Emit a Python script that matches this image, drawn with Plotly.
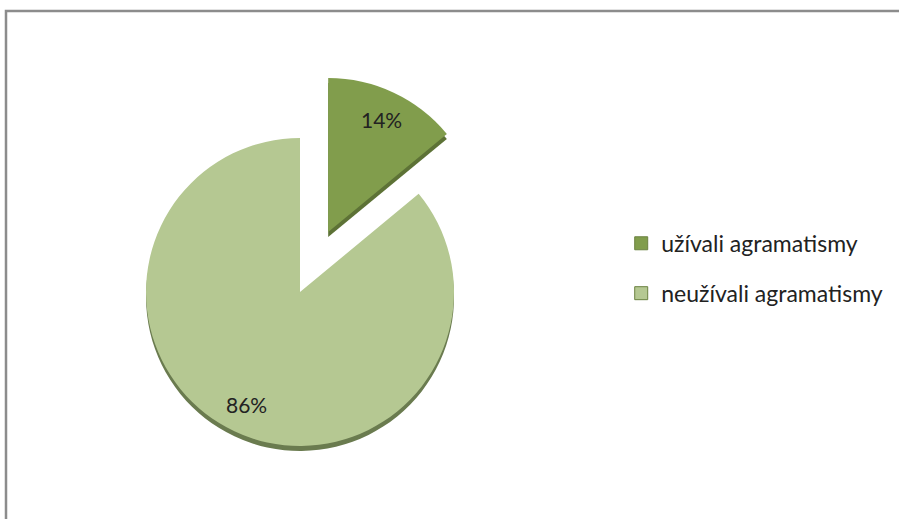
import math
import plotly.graph_objects as go

# Survey result: share of children who used agrammatisms
labels = ["užívali agramatismy", "neužívali agramatismy"]
values = [14, 86]
colors = ["#819d4c", "#b5c892"]
rim_colors = ["#5d7236", "#6a7b4f"]
pulls = [0.43, 0]

W, H = 899, 519

# pie geometry in pixels
cx, cy, r = 300, 292, 154
ext = r * (1 + max(pulls))
rim_dy = 5
dom_x = [(cx - ext) / W, (cx + ext) / W]
dom_y = [1 - (cy + ext) / H, 1 - (cy - ext) / H]
dom_y_rim = [1 - (cy + ext + rim_dy) / H, 1 - (cy - ext + rim_dy) / H]

fig = go.Figure()

# darker copy slightly lower gives the slices their bottom edge
fig.add_trace(go.Pie(
    labels=labels, values=values, sort=False, direction="clockwise",
    rotation=0, pull=pulls, marker=dict(colors=rim_colors),
    textinfo="none", hoverinfo="skip", showlegend=False,
    domain=dict(x=dom_x, y=dom_y_rim),
))

fig.add_trace(go.Pie(
    labels=labels, values=values, sort=False, direction="clockwise",
    rotation=0, pull=pulls, marker=dict(colors=colors),
    textinfo="none", showlegend=False,
    domain=dict(x=dom_x, y=dom_y),
))

# percentage labels placed along each slice's mid-angle
total = sum(values)
start = 0.0
annotations = []
for v, p in zip(values, pulls):
    mid = (start + v / total / 2) * 2 * math.pi
    start += v / total
    dx, dy = math.sin(mid), -math.cos(mid)
    px = cx + dx * r * (p + 0.81)
    py = cy + dy * r * (p + 0.81)
    annotations.append(dict(
        x=px / W, y=1 - py / H, xref="paper", yref="paper",
        xanchor="center", yanchor="middle",
        text=f"{round(v / total * 100)}%", showarrow=False,
        font=dict(family="Lato", size=21, color="#222222"),
    ))

# legend entries
for lab, col in zip(labels, colors):
    fig.add_trace(go.Scatter(
        x=[None], y=[None], mode="markers", name=lab,
        legendgroup=lab,
        marker=dict(symbol="square", size=13, color=col,
                    line=dict(color="#6b8240", width=1)),
    ))

fig.update_layout(
    width=W, height=H,
    margin=dict(l=0, r=0, t=0, b=0),
    paper_bgcolor="white", plot_bgcolor="white",
    xaxis=dict(visible=False), yaxis=dict(visible=False),
    showlegend=True,
    legend=dict(
        x=0.691, y=0.483, xanchor="left", yanchor="middle",
        font=dict(family="Lato", size=23, color="#222222"),
        tracegroupgap=17, itemwidth=30, bgcolor="rgba(0,0,0,0)",
    ),
    annotations=annotations,
    shapes=[dict(
        type="rect", xref="paper", yref="paper",
        x0=6 / W, x1=1.05, y0=-0.05, y1=1 - 11 / H,
        line=dict(color="#8c8c8c", width=2.5),
    )],
)

fig.write_html("out.html")
